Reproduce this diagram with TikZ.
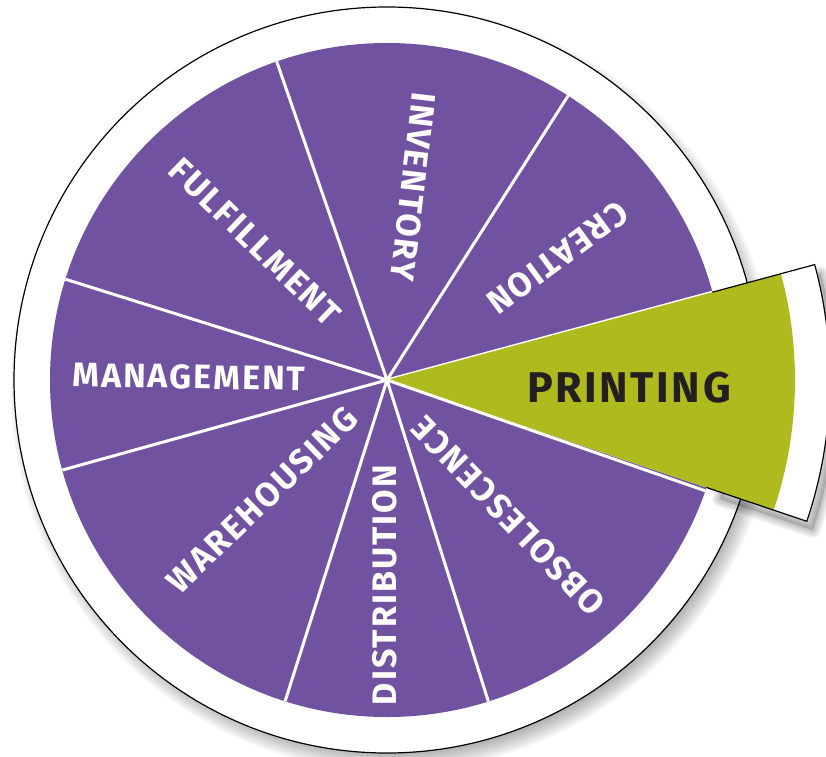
\documentclass[tikz,border=0pt]{standalone}
\usepackage{fontspec}
\setmainfont{Fira Sans}
\newfontfamily\lblfont{Fira Sans}[LetterSpace=6]
\definecolor{wheelpurple}{HTML}{7052A0}
\definecolor{printgreen}{HTML}{AEBA1E}
\definecolor{inkdark}{HTML}{231F20}
\begin{document}
\begin{tikzpicture}[x=1pt,y=1pt,
  lbl/.style={text=white,font=\lblfont\fontsize{34}{34}\selectfont\bfseries,inner sep=0pt},
  biglbl/.style={text=inkdark,font=\lblfont\fontsize{43}{43}\selectfont\bfseries,inner sep=0pt},
  divider/.style={white,line width=3pt},
  rim/.style={black,line width=1.2pt}]
\useasboundingbox (-387,-376) rectangle (439,380);
% soft shadow of the wheel
\foreach \k in {0,...,9} {\fill[black,opacity=0.035] (6,-9) circle ({364+2*\k});}
% wheel
\fill[white] (0,0) circle (373);
\draw[rim] (0,0) circle (373);
\fill[wheelpurple] (0,0) circle (337);
\foreach \a in {15.1,57.5,109.1,162.6,195.5,252.4,287.5} \draw[divider] (0,0) -- (\a:337);
% shadow of the pulled-out slice
\begin{scope}[shift={(6,-9)}]
\foreach \k in {1,...,8} {\draw[black,opacity=0.03,line width=2*\k pt,line join=round]
  (-18.6:345) -- (-18.6:443) arc (-18.6:15.1:443) -- (15.1:345) arc (15.1:-18.6:345) -- cycle;}
\fill[black,opacity=0.15] (-18.6:345) -- (-18.6:443) arc (-18.6:15.1:443) -- (15.1:345) arc (15.1:-18.6:345) -- cycle;
\end{scope}
% pulled-out slice
\fill[white] (0,0) -- (-18.6:443) arc (-18.6:15.1:443) -- cycle;
\fill[printgreen] (0,0) -- (-18.6:408) arc (-18.6:15.1:408) -- cycle;
\draw[rim,line join=miter] (-18.6:337) -- (-18.6:443) arc (-18.6:15.1:443) -- (15.1:337);
\draw[divider] (0,0) -- (-19.2:337);
% labels
\node[lbl,rotate=-143.7] (creation) at (35.7:210) {CREATION};
\node[lbl,rotate=-96.7] (inventory) at (82.3:195) {INVENTORY};
\node[lbl,rotate=-44.1] (fulfillment) at (133.7:191) {FULFILLMENT};
\node[lbl,rotate=-0.95] (management) at (179.1:198) {MANAGEMENT};
\node[lbl,rotate=44] (warehousing) at (223.8:173) {WAREHOUSING};
\node[lbl,rotate=90] (distribution) at (269.4:205) {DISTRIBUTION};
\node[lbl,rotate=134] (obsolescence) at (311.7:182) {OBSOLESCENCE};
\node[biglbl] (printing) at (242,-8) {PRINTING};
\end{tikzpicture}
\end{document}
